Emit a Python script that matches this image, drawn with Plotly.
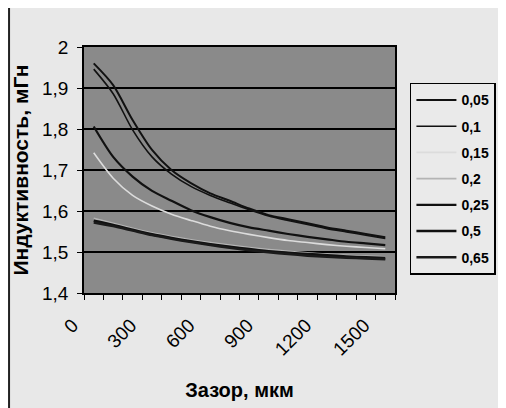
import plotly.graph_objects as go

gap_um = [0, 100, 200, 300, 400, 500, 600, 700, 800, 900, 1000, 1100, 1200, 1300, 1400, 1500]

s_005 = [1.960, 1.907, 1.822, 1.749, 1.700, 1.668, 1.643, 1.625, 1.606, 1.590, 1.580, 1.570, 1.560, 1.552, 1.544, 1.536]
s_01 = [1.946, 1.886, 1.798, 1.732, 1.690, 1.660, 1.638, 1.620, 1.603, 1.588, 1.577, 1.567, 1.557, 1.549, 1.541, 1.533]
s_015 = [1.742, 1.680, 1.638, 1.612, 1.592, 1.577, 1.563, 1.552, 1.543, 1.535, 1.528, 1.523, 1.518, 1.514, 1.511, 1.508]
s_02 = [1.582, 1.570, 1.558, 1.547, 1.538, 1.530, 1.523, 1.517, 1.511, 1.506, 1.502, 1.498, 1.495, 1.492, 1.490, 1.488]
s_025 = [1.806, 1.732, 1.684, 1.649, 1.625, 1.602, 1.585, 1.571, 1.560, 1.552, 1.544, 1.537, 1.531, 1.525, 1.521, 1.517]
s_05 = [1.576, 1.566, 1.554, 1.543, 1.534, 1.526, 1.519, 1.513, 1.507, 1.502, 1.498, 1.495, 1.492, 1.489, 1.487, 1.485]
s_065 = [1.572, 1.563, 1.552, 1.541, 1.532, 1.524, 1.517, 1.510, 1.504, 1.499, 1.495, 1.491, 1.488, 1.486, 1.484, 1.482]

series_names = ["0,05", "0,1", "0,15", "0,2", "0,25", "0,5", "0,65"]
series_values = [s_005, s_01, s_015, s_02, s_025, s_05, s_065]
x_tick_labels = [0, 300, 600, 900, 1200, 1500]
y_tick_values = [1.4, 1.5, 1.6, 1.7, 1.8, 1.9, 2.0]

styles = [
    dict(color="#111111", width=2),
    dict(color="#111111", width=1.6),
    dict(color="#dcdcdc", width=1.6),
    dict(color="#b4b4b4", width=1.6),
    dict(color="#111111", width=2.2),
    dict(color="#111111", width=2.6),
    dict(color="#1a1a1a", width=2.4),
]

FONT = "Liberation Sans, Arial, sans-serif"

fig = go.Figure()
for i, (name, vals) in enumerate(zip(series_names, series_values)):
    fig.add_trace(go.Scatter(
        x=gap_um, y=vals, name=name, mode="lines",
        line=dict(shape="spline", smoothing=0.8, **styles[i]),
        legendgroup=name,
    ))

# page body has an 8px margin, so figure coords are offset by 8px
fig.update_layout(
    width=506, height=408,
    margin=dict(l=76, r=119, t=39, b=123, autoexpand=False),
    paper_bgcolor="#e8e8e8",
    plot_bgcolor="#8a8a8a",
    separators=", ",
    font=dict(family=FONT, size=18, color="black"),
    showlegend=True,
    legend=dict(
        x=1.048, y=0.854, xanchor="left", yanchor="top",
        bgcolor="#eaeaea", bordercolor="black", borderwidth=1.5,
        font=dict(family=FONT, size=14, color="black", weight="bold"),
        tracegroupgap=5, itemwidth=40,
    ),
    shapes=[dict(type="line", xref="paper", yref="paper",
                 x0=-0.241, x1=-0.241, y0=-0.5, y1=1.2,
                 line=dict(color="#222", width=2))],
)

fig.update_xaxes(
    range=[-50, 1550], automargin=False,
    tickmode="array", tickvals=x_tick_labels, ticktext=[str(v) for v in x_tick_labels],
    tickangle=-45, ticks="", ticklabelshift=-21, ticklabelstandoff=12,
    tickfont=dict(family=FONT, size=19, color="black"),
    showgrid=False, zeroline=False,
    showline=True, linecolor="black", linewidth=1.5, mirror=True,
    minor=dict(ticks="outside", tickmode="linear", tick0=50, dtick=100,
               ticklen=5, tickcolor="black", tickwidth=1.2, showgrid=False),
    title=dict(text="<b>Зазор, мкм</b>", font=dict(family=FONT, size=20, color="black"), standoff=25),
)

fig.update_yaxes(
    range=[1.4, 2.0], automargin=False,
    tickmode="array", tickvals=y_tick_values,
    ticks="outside", ticklen=5, tickcolor="black", tickwidth=1.2,
    ticklabelstandoff=5,
    tickfont=dict(family=FONT, size=19, color="black"),
    showgrid=True, gridcolor="black", gridwidth=1.5,
    zeroline=False,
    showline=True, linecolor="black", linewidth=1.5, mirror=True,
    title=dict(text="<b>Индуктивность, мГн</b>", font=dict(family=FONT, size=21, color="black"), standoff=8),
)

fig.write_html("out.html")
